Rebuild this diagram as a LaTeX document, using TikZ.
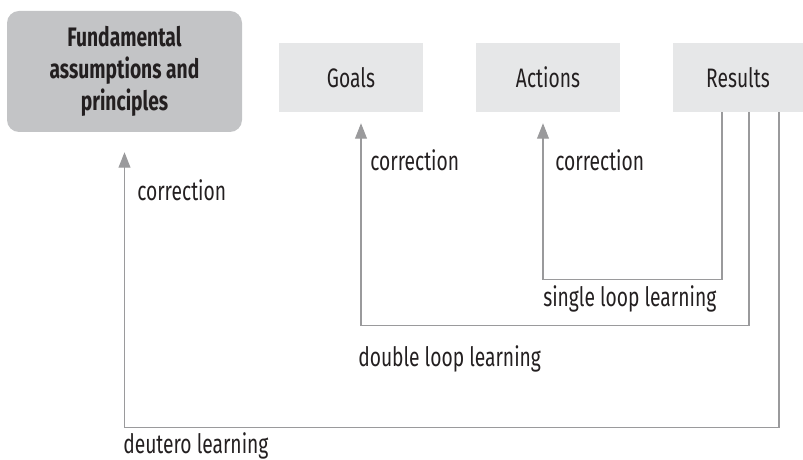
\documentclass[tikz,border=0pt]{standalone}
\usepackage{fontspec}
\setmainfont{Fira Sans}[FakeStretch=0.72]
\usetikzlibrary{arrows.meta}
\usetikzlibrary{positioning}

\definecolor{textgray}{HTML}{231F20}
\definecolor{linegray}{HTML}{9A9A9C}
\definecolor{darkbox}{HTML}{C3C4C6}
\definecolor{lightbox}{HTML}{E6E7E8}

\tikzset{
  stagebox/.style={fill=lightbox, minimum width=3.6cm, minimum height=1.725cm,
    inner sep=0pt, text=textgray},
  feedback/.style={draw=linegray, line width=0.75pt,
    -{Triangle[width=8.5pt,length=11pt]}},
  looplabel/.style={anchor=base west, inner sep=0pt, text=textgray}
}

\begin{document}
\begin{tikzpicture}[font=\fontsize{19}{22.8}\selectfont]
      % Fix the canvas
      \useasboundingbox (0,0) rectangle (20.075,-11.5);

      % Draw the boxes
      \node[fill=darkbox, rounded corners=0.3cm, minimum width=5.875cm,
        minimum height=3.025cm, inner sep=0pt, text=textgray, align=center,
        font=\fontsize{19}{22.8}\selectfont\bfseries] (fund) at (3.1125,-1.7875)
        {Fundamental\\assumptions and\\principles};
      \node[stagebox] (goals) at (8.775,-1.9375) {Goals};
      \node[stagebox] (act) at (13.7,-1.9375) {Actions};
      \node[stagebox, minimum width=3.25cm] (res) at (18.45,-1.9375) {Results};

      % Draw the loops
      \draw[feedback] ([xshift=-0.4cm]res.south) -- ++(0,-4.175)
        -| ([xshift=-0.125cm,yshift=-0.275cm]act.south);
      \draw[feedback] ([xshift=0.275cm]res.south) -- ++(0,-5.325)
        -| ([xshift=0.25cm,yshift=-0.275cm]goals.south);
      \draw[feedback] ([xshift=1.025cm]res.south) -- ++(0,-7.875)
        -| ([yshift=-0.5cm]fund.south);

      % Label the loops
      \node[looplabel] (corfund) at (3.425,-5.025) {correction};
      \node[looplabel] (corgoals) at (9.25,-4.275) {correction};
      \node[looplabel] (coract) at (13.875,-4.275) {correction};
      \node[looplabel] (single) at (13.575,-7.67) {single loop learning};
      \node[looplabel] (double) at (8.95,-9.17) {double loop learning};
      \node[looplabel] (deutero) at (3.075,-11.33) {deutero learning};
    \end{tikzpicture}
\end{document}
